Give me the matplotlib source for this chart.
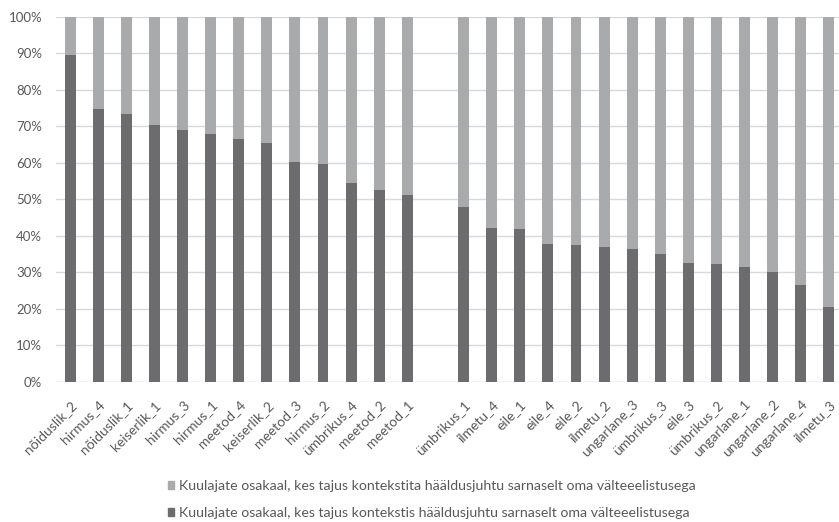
import numpy as np
import matplotlib
matplotlib.use('Agg')
import matplotlib.pyplot as plt
import matplotlib.patches as mpatches
from matplotlib.ticker import PercentFormatter

plt.rcParams['font.family'] = ['Lato', 'DejaVu Sans']

# ── Data ──────────────────────────────────────────────────────────────────────
group_a = ['nõiduslik_2', 'hirmus_4', 'nõiduslik_1', 'keiserlik_1', 'hirmus_3',
           'hirmus_1', 'meetod_4', 'keiserlik_2', 'meetod_3', 'hirmus_2',
           'ümbrikus_4', 'meetod_2', 'meetod_1']
group_b = ['ümbrikus_1', 'ilmetu_4', 'eile_1', 'eile_4', 'eile_2', 'ilmetu_2',
           'ungarlane_3', 'ümbrikus_3', 'eile_3', 'ümbrikus_2', 'ungarlane_1',
           'ungarlane_2', 'ungarlane_4', 'ilmetu_3']

# share (%) who perceived the item in context like their own preference
context_a = [89.5, 74.8, 73.3, 70.4, 69.0, 68.0, 66.5, 65.5, 60.3, 59.7,
             54.5, 52.6, 51.1]
context_b = [47.8, 42.2, 41.9, 37.6, 37.4, 37.0, 36.4, 34.9, 32.5, 32.2,
             31.5, 30.1, 26.4, 20.5]

lbl_noctx = 'Kuulajate osakaal, kes tajus kontekstita hääldusjuhtu sarnaselt oma välteeelistusega'
lbl_ctx = 'Kuulajate osakaal, kes tajus kontekstis hääldusjuhtu sarnaselt oma välteeelistusega'

# ── Layout: one empty slot between the two groups ─────────────────────────────
labels = group_a + [''] + group_b
ctx = np.array(context_a + [np.nan] + context_b)
noctx = 100 - ctx
x = np.arange(len(labels))

col_dark = '#6c6c6e'
col_light = '#a9aaac'
col_text = '#595959'

W, H = 839, 522
fig = plt.figure(figsize=(W / 100, H / 100), dpi=100)
left, right, top, bottom = 56, 843, 16.7, 381.7
ax = fig.add_axes([left / W, 1 - bottom / H, (right - left) / W, (bottom - top) / H])

ax.bar(x, ctx, width=0.39, color=col_dark, zorder=2)
ax.bar(x, noctx, bottom=ctx, width=0.39, color=col_light, zorder=2)

ax.set_xlim(-0.5, len(labels) - 0.5)
ax.set_ylim(0, 100)
ax.set_yticks(np.arange(0, 101, 10))
ax.yaxis.set_major_formatter(PercentFormatter(decimals=0))
ax.grid(axis='y', color='#d9d9d9', linewidth=1, zorder=0)
for s in ax.spines.values():
    s.set_visible(False)
ax.axhline(0, color='#d9d9d9', linewidth=1, zorder=1)

ax.set_xticks(x)
ax.set_xticklabels(labels, rotation=45, ha='right', rotation_mode='anchor',
                   fontsize=10, color=col_text)
ax.tick_params(axis='both', length=0, colors=col_text)
ax.tick_params(axis='x', pad=12)
ax.tick_params(axis='y', pad=10, labelsize=9.5)

# ── Legend ────────────────────────────────────────────────────────────────────
handles = [mpatches.Patch(color=col_light, label=lbl_noctx),
           mpatches.Patch(color=col_dark, label=lbl_ctx)]
fig.legend(handles=handles, loc='center left', bbox_to_anchor=(161 / W, 1 - 499.5 / H),
           frameon=False, fontsize=10.2, labelcolor=col_text, handlelength=0.45,
           handleheight=0.45, handletextpad=0.3, labelspacing=1.05, borderpad=0)

fig.savefig('out.png', dpi=100)
